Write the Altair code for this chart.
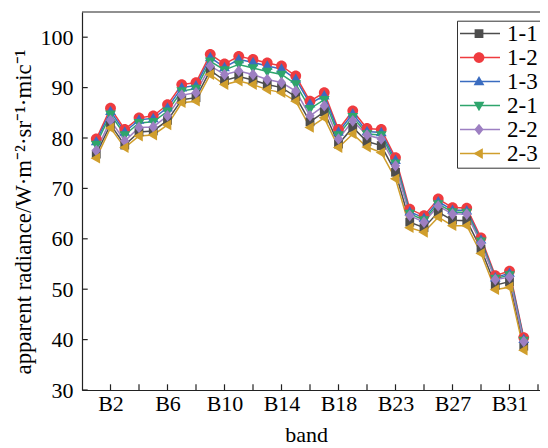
import altair as alt
import pandas as pd

bands = ["B1", "B2", "B3", "B4", "B5", "B6", "B7", "B8", "B9", "B10",
         "B11", "B12", "B13", "B14", "B15", "B16", "B17", "B18", "B19", "B20",
         "B22", "B23", "B24", "B25", "B26", "B27", "B28", "B29", "B30", "B31", "B32"]
series = ["1-1", "1-2", "1-3", "2-1", "2-2", "2-3"]
colors = ["#4d4d4d", "#ef3b3f", "#3a6cc0", "#2ea56c", "#9d7fc2", "#d09e2c"]
# marker outlines (square, circle, triangle-up, triangle-down, diamond, triangle-left)
shapes = [
    "M-0.22,-0.22H0.22V0.22H-0.22Z",
    "M0.27,0A0.27,0.27 0 1,1 -0.27,0A0.27,0.27 0 1,1 0.27,0Z",
    "M0,-0.28L0.27,0.19L-0.27,0.19Z",
    "M0,0.28L0.27,-0.19L-0.27,-0.19Z",
    "M0,-0.29L0.23,0L0,0.29L-0.23,0Z",
    "M-0.28,0L0.19,-0.27L0.19,0.27Z",
]

v11 = [76.8, 82.7, 78.6, 81.2, 81.4, 83.5, 87.6, 88.0, 93.4, 91.4,
       92.2, 91.5, 90.6, 90.0, 88.2, 83.2, 85.2, 78.8, 82.1, 79.3,
       78.5, 73.2, 63.3, 62.2, 65.3, 63.7, 63.6, 58.0, 50.8, 51.5, 38.7]
v12 = [79.8, 85.9, 81.7, 84.0, 84.4, 86.6, 90.6, 91.0, 96.6, 94.7,
       96.2, 95.6, 94.9, 94.3, 92.3, 87.3, 89.0, 81.7, 85.4, 81.9,
       81.7, 76.1, 65.9, 64.6, 67.9, 66.2, 66.1, 60.2, 52.7, 53.6, 40.4]
v13 = [79.3, 85.3, 81.2, 83.6, 83.9, 86.0, 90.0, 90.4, 96.0, 94.0,
       95.6, 95.0, 94.3, 93.7, 91.7, 86.8, 88.4, 81.2, 84.8, 81.3,
       81.1, 75.6, 65.4, 64.1, 67.4, 65.7, 65.6, 59.8, 52.3, 53.2, 40.1]
v21 = [78.7, 84.7, 80.6, 83.0, 83.2, 85.3, 89.3, 89.8, 95.2, 93.5,
       94.6, 93.9, 93.2, 92.6, 90.7, 85.8, 87.6, 80.6, 84.2, 80.8,
       80.6, 75.0, 65.0, 63.7, 66.9, 65.3, 65.2, 59.5, 52.1, 52.8, 39.8]
v22 = [77.5, 83.5, 79.4, 82.1, 82.2, 84.4, 88.5, 89.0, 94.3, 92.6,
       93.3, 92.6, 91.6, 91.0, 89.3, 84.4, 86.4, 79.8, 83.4, 80.6,
       79.8, 74.5, 64.6, 63.3, 66.5, 64.9, 64.9, 59.1, 51.9, 52.4, 39.6]
v23 = [76.0, 82.0, 78.1, 80.4, 80.6, 82.6, 87.0, 87.3, 92.6, 90.6,
       91.3, 90.6, 89.6, 89.0, 87.3, 82.1, 84.0, 78.1, 80.8, 78.2,
       77.1, 71.9, 62.2, 61.3, 64.3, 62.6, 62.6, 57.1, 49.9, 50.4, 37.9]

x_label_vals = [1, 5, 9, 13, 17, 21, 25, 29]
x_ticks = list(range(1, 32, 2))
y_ticks = [30, 40, 50, 60, 70, 80, 90, 100]

series_b = [s + " " for s in series]
rows = []
for s, sb, vals in zip(series, series_b, [v11, v12, v13, v21, v22, v23]):
    for i, (b, v) in enumerate(zip(bands, vals)):
        rows.append({"idx": i, "band": b, "series": s, "series_b": sb, "value": v})
df = pd.DataFrame(rows)

W, H = 458, 378
FONT = "Liberation Serif"
AX = "#222222"
LX, LY = 375, 8.7
ROWH = 21.7

xscale = alt.Scale(domain=[-1, 31.14], nice=False, zero=False)
yscale = alt.Scale(domain=[30, 105], nice=False, zero=False)
label_expr = "[" + ",".join("'%s'" % b for b in bands) + "][datum.value]"

base = alt.Chart(df)

lines = base.mark_line(strokeWidth=1.5).encode(
    x=alt.X("idx:Q", scale=xscale,
            axis=alt.Axis(values=x_label_vals, labelExpr=label_expr, title="band",
                          tickSize=0, grid=False, labelPadding=3,
                          titleX=224, titleY=51, titleBaseline="alphabetic")),
    y=alt.Y("value:Q", scale=yscale,
            axis=alt.Axis(values=y_ticks, tickSize=0, grid=False, labelPadding=9,
                          title="apparent radiance/W·m⁻²·sr⁻¹·mic⁻¹", titleFontSize=22.8,
                          titleX=-52, titleY=199.5, titleBaseline="alphabetic")),
    stroke=alt.Stroke("series:N", scale=alt.Scale(domain=series, range=colors),
                      legend=alt.Legend(title=None, orient="none", legendX=LX, legendY=LY,
                                        symbolType="stroke", symbolSize=1600,
                                        symbolStrokeWidth=1.5, labelFont=FONT,
                                        labelFontSize=23, labelColor="black",
                                        labelOffset=6, rowPadding=0, padding=2,
                                        clipHeight=ROWH,
                                        strokeColor="#333333", fillColor="white",
                                        zindex=1)),
)

legend_b = alt.Legend(title=None, orient="none", legendX=LX, legendY=LY,
                      symbolSize=1600, symbolStrokeWidth=0, labelExpr="' '",
                      labelFont=FONT, labelFontSize=23, labelOffset=6,
                      rowPadding=0, padding=2, clipHeight=ROWH, zindex=2)

points = base.mark_point(filled=True, size=1600, opacity=1, strokeWidth=0).encode(
    x=alt.X("idx:Q", scale=xscale),
    y=alt.Y("value:Q", scale=yscale),
    fill=alt.Fill("series_b:N", scale=alt.Scale(domain=series_b, range=colors), legend=legend_b),
    shape=alt.Shape("series_b:N", scale=alt.Scale(domain=series_b, range=shapes), legend=legend_b),
)

xt = alt.Chart(pd.DataFrame({"idx": x_ticks})).mark_rule(color=AX, strokeWidth=1.2).encode(
    x=alt.X("idx:Q", scale=xscale),
    y=alt.value(H), y2=alt.value(H - 5.7),
)
yt = alt.Chart(pd.DataFrame({"value": y_ticks})).mark_rule(color=AX, strokeWidth=1.2).encode(
    y=alt.Y("value:Q", scale=yscale),
    x=alt.value(0), x2=alt.value(5.7),
)
top = alt.Chart(pd.DataFrame({"a": [0]})).mark_rule(color=AX, strokeWidth=1.2).encode(
    y=alt.value(0)
)

chart = alt.layer(lines, points, xt, yt, top).properties(
    width=W, height=H,
    autosize=alt.AutoSizeParams(type="none"),
    padding={"left": 74, "top": 4, "right": 0, "bottom": 57},
).configure_view(stroke=None).configure_axis(
    labelFont=FONT, labelFontSize=22, labelColor="black",
    titleFont=FONT, titleFontSize=22, titleFontWeight="normal", titleColor="black",
    domainColor=AX, domainWidth=1.2,
)

chart.save("out.html", embed_options={"renderer": "svg", "actions": False})
